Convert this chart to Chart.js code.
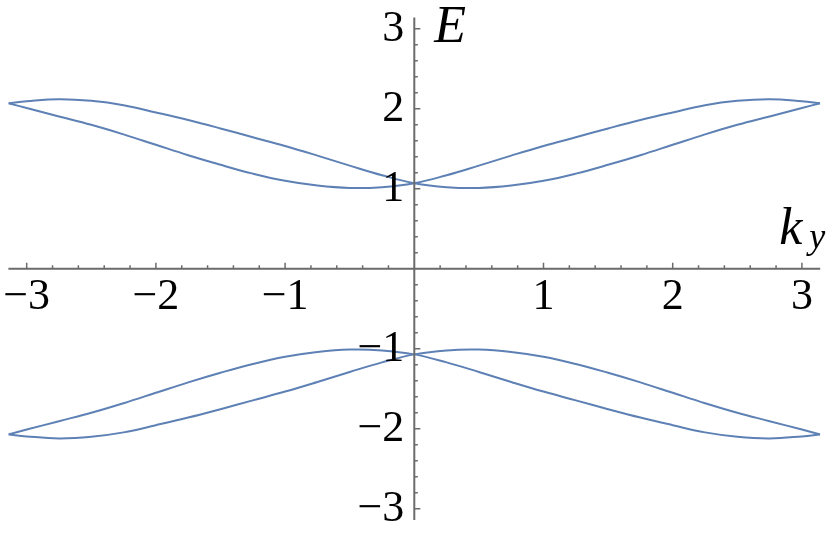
<!DOCTYPE html>
<html>
<head>
<meta charset="utf-8">
<script src="https://cdn.jsdelivr.net/npm/chart.js@4.4.1/dist/chart.umd.min.js"></script>
<style>
    html, body { margin: 0; padding: 0; background: #fff; }
    canvas { display: block; }
</style>
</head>
<body>
<canvas id="band-chart" width="831" height="541"></canvas>
<script>
// --- DATA ---
const kValues = [-3.1416, -3.0, -2.75, -2.5, -2.25, -2.0, -1.75, -1.5, -1.25, -1.0, -0.75, -0.5, -0.25, 0,
                 0.25, 0.5, 0.75, 1.0, 1.25, 1.5, 1.75, 2.0, 2.25, 2.5, 2.75, 3.0, 3.1416];
const upperBandA = [2.07, 2.095, 2.12, 2.10, 2.045, 1.955, 1.86, 1.755, 1.645, 1.535, 1.415, 1.29, 1.17, 1.07,
                    1.02, 1.01, 1.04, 1.10, 1.19, 1.30, 1.42, 1.55, 1.68, 1.80, 1.905, 2.01, 2.07];
const upperBandB = [2.07, 2.01, 1.905, 1.80, 1.68, 1.55, 1.42, 1.30, 1.19, 1.10, 1.04, 1.01, 1.02, 1.07,
                    1.17, 1.29, 1.415, 1.535, 1.645, 1.755, 1.86, 1.955, 2.045, 2.10, 2.12, 2.095, 2.07];
const lowerBandA = [-2.07, -2.095, -2.12, -2.10, -2.045, -1.955, -1.86, -1.755, -1.645, -1.535, -1.415, -1.29, -1.17, -1.07,
                    -1.02, -1.01, -1.04, -1.10, -1.19, -1.30, -1.42, -1.55, -1.68, -1.80, -1.905, -2.01, -2.07];
const lowerBandB = [-2.07, -2.01, -1.905, -1.80, -1.68, -1.55, -1.42, -1.30, -1.19, -1.10, -1.04, -1.01, -1.02, -1.07,
                    -1.17, -1.29, -1.415, -1.535, -1.645, -1.755, -1.86, -1.955, -2.045, -2.10, -2.12, -2.095, -2.07];
const xTickLabels = [-3, -2, -1, 1, 2, 3];
const yTickLabels = [-3, -2, -1, 1, 2, 3];

const lineColor = '#5e81b5';
const axisColor = '#6b6b6b';
const serif = "'Liberation Serif', 'Times New Roman', serif";

function toPoints(ys) {
    return kValues.map((k, i) => ({ x: k, y: ys[i] }));
}

function bandDataset(ys) {
    return {
        data: toPoints(ys),
        borderColor: lineColor,
        borderWidth: 2,
        pointRadius: 0,
        tension: 0.4,
        fill: false
    };
}

function fmt(v) {
    return v < 0 ? '\u2212' + Math.abs(v) : String(v);
}

// --- AXES DRAWN THROUGH THE CHART SCALES (crossing at the origin) ---
const originAxes = {
    id: 'originAxes',
    afterDraw(chart) {
        const { ctx, scales: { x, y } } = chart;
        const x0 = x.getPixelForValue(0);
        const y0 = y.getPixelForValue(0);
        ctx.save();
        ctx.strokeStyle = axisColor;
        ctx.lineWidth = 2;

        // axis lines
        ctx.beginPath();
        ctx.moveTo(x.left, y0); ctx.lineTo(x.right, y0);
        ctx.moveTo(x0, y.top); ctx.lineTo(x0, y.bottom);
        ctx.stroke();

        // ticks every 0.2, longer on integers
        ctx.lineWidth = 1.5;
        ctx.beginPath();
        for (let i = -15; i <= 15; i++) {
            if (i === 0) continue;
            const v = i / 5;
            const len = i % 5 === 0 ? 6 : 3.5;
            const px = x.getPixelForValue(v);
            if (px >= x.left - 0.5 && px <= x.right + 0.5) {
                ctx.moveTo(px, y0); ctx.lineTo(px, y0 - len);
            }
            const py = y.getPixelForValue(v);
            if (py >= y.top - 0.5 && py <= y.bottom + 0.5) {
                ctx.moveTo(x0, py); ctx.lineTo(x0 + len, py);
            }
        }
        ctx.stroke();

        // tick labels
        ctx.fillStyle = '#000';
        ctx.font = '44px ' + serif;
        ctx.textAlign = 'center';
        ctx.textBaseline = 'middle';
        xTickLabels.forEach(v => ctx.fillText(fmt(v), x.getPixelForValue(v), y0 + 29));
        ctx.textAlign = 'right';
        yTickLabels.forEach(v => ctx.fillText(fmt(v), x0 - 10, y.getPixelForValue(v) + 1));

        // axis labels
        ctx.textAlign = 'left';
        ctx.textBaseline = 'alphabetic';
        ctx.font = 'italic 52px ' + serif;
        ctx.fillText('E', x0 + 20, 42);
        ctx.fillText('k', x.right - 41, y0 - 25);
        ctx.font = 'italic 36px ' + serif;
        ctx.fillText('y', x.right - 11, y0 - 21);
        ctx.restore();
    }
};

// --- CHART ---
new Chart(document.getElementById('band-chart'), {
    type: 'line',
    data: {
        datasets: [
            bandDataset(upperBandA),
            bandDataset(upperBandB),
            bandDataset(lowerBandA),
            bandDataset(lowerBandB)
        ]
    },
    options: {
        responsive: false,
        animation: false,
        layout: { padding: { left: 8.4, right: 10.8, top: 17.5, bottom: 20.9 } },
        plugins: { legend: { display: false }, tooltip: { enabled: false } },
        scales: {
            x: { type: 'linear', min: -Math.PI, max: Math.PI, display: false },
            y: { type: 'linear', min: -Math.PI, max: Math.PI, display: false }
        }
    },
    plugins: [originAxes]
});
</script>
</body>
</html>
